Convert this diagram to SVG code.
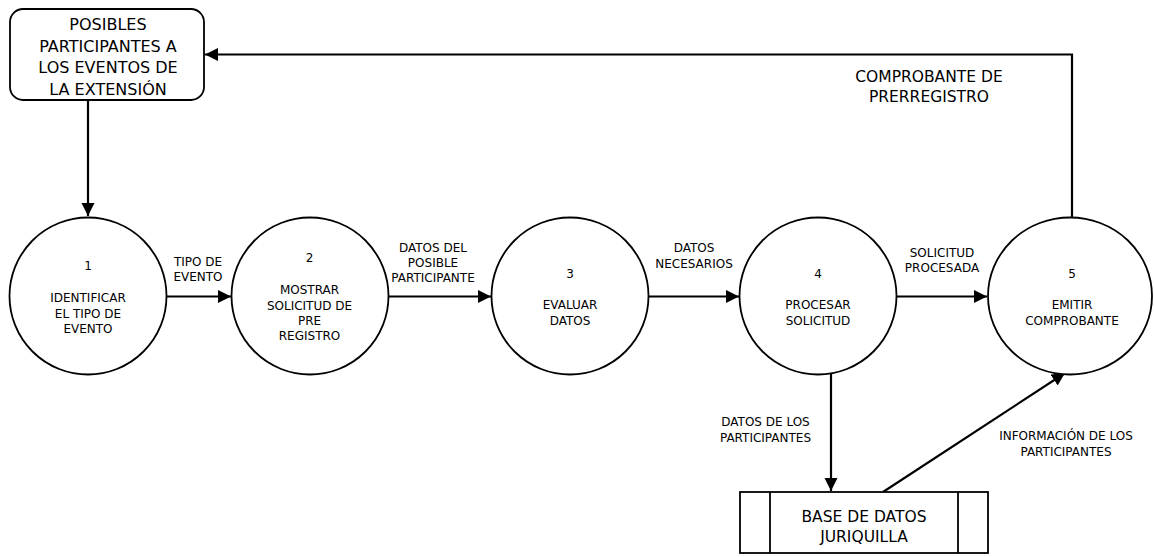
<svg xmlns="http://www.w3.org/2000/svg" width="1154" height="557" viewBox="0 0 1154 557">
<style>
text{font-family:"DejaVu Sans","Liberation Sans",sans-serif;fill:#000;text-anchor:middle}
.big{font-size:15.5px}
.sm{font-size:12px}
.shape{fill:#fff;stroke:#000;stroke-width:1.8}
.flow{fill:none;stroke:#000;stroke-width:2.2}
</style>
<defs>
<marker id="ah" markerUnits="userSpaceOnUse" markerWidth="14" markerHeight="14" refX="13" refY="6.5" orient="auto">
<path d="M0,0 L13,6.5 L0,13 z" fill="#000"/>
</marker>
</defs>
<g id="connectors">
<path class="flow" d="M88,100 V216" marker-end="url(#ah)"/>
<path class="flow" d="M167,296.5 H231" marker-end="url(#ah)"/>
<path class="flow" d="M388,296.5 H491" marker-end="url(#ah)"/>
<path class="flow" d="M648,296.5 H739" marker-end="url(#ah)"/>
<path class="flow" d="M897,296.5 H987" marker-end="url(#ah)"/>
<path class="flow" d="M1072,218 V54.5 H205" marker-end="url(#ah)"/>
<path class="flow" d="M831,373 V491" marker-end="url(#ah)"/>
<path class="flow" d="M883,492 L1065,373" marker-end="url(#ah)"/>
<text class="sm" x="198" y="266">TIPO DE</text>
<text class="sm" x="198" y="281">EVENTO</text>
<text class="sm" x="433" y="251.5">DATOS DEL</text>
<text class="sm" x="433" y="266.5">POSIBLE</text>
<text class="sm" x="433" y="282">PARTICIPANTE</text>
<text class="sm" x="694" y="251.5">DATOS</text>
<text class="sm" x="694" y="267.5">NECESARIOS</text>
<text class="sm" x="942" y="256.5">SOLICITUD</text>
<text class="sm" x="942" y="272">PROCESADA</text>
<text class="big" x="929" y="81.5">COMPROBANTE DE</text>
<text class="big" x="929" y="101.5">PRERREGISTRO</text>
<text class="sm" x="765.5" y="426">DATOS DE LOS</text>
<text class="sm" x="765.5" y="441.5">PARTICIPANTES</text>
<text class="sm" x="1066" y="440">INFORMACIÓN DE LOS</text>
<text class="sm" x="1066" y="455.5">PARTICIPANTES</text>
</g>
<g id="entity">
<rect class="shape" x="10" y="9" width="194" height="91" rx="13"/>
<text style="font-size:16px" x="108" y="30">POSIBLES</text>
<text style="font-size:16px" x="108" y="51.5">PARTICIPANTES A</text>
<text style="font-size:16px" x="108" y="73">LOS EVENTOS DE</text>
<text style="font-size:16px" x="108" y="94.5">LA EXTENSIÓN</text>
</g>
<g id="p1">
<circle class="shape" cx="88" cy="296" r="78.5"/>
<text class="sm" x="88" y="270">1</text>
<text class="sm" x="88" y="302">IDENTIFICAR</text>
<text class="sm" x="88" y="317.5">EL TIPO DE</text>
<text class="sm" x="88" y="332.5">EVENTO</text>
</g>
<g id="p2">
<circle class="shape" cx="310" cy="296" r="78.5"/>
<text class="sm" x="309.5" y="262">2</text>
<text class="sm" x="309.5" y="294">MOSTRAR</text>
<text class="sm" x="309.5" y="309.5">SOLICITUD DE</text>
<text class="sm" x="309.5" y="324.5">PRE</text>
<text class="sm" x="309.5" y="340">REGISTRO</text>
</g>
<g id="p3">
<circle class="shape" cx="570" cy="296" r="78.5"/>
<text class="sm" x="570" y="278">3</text>
<text class="sm" x="570" y="309">EVALUAR</text>
<text class="sm" x="570" y="324.5">DATOS</text>
</g>
<g id="p4">
<circle class="shape" cx="818" cy="296" r="78.5"/>
<text class="sm" x="818" y="278">4</text>
<text class="sm" x="818" y="309">PROCESAR</text>
<text class="sm" x="818" y="324.5">SOLICITUD</text>
</g>
<g id="p5">
<ellipse class="shape" cx="1070" cy="296" rx="82" ry="78.5"/>
<text class="sm" x="1072" y="278">5</text>
<text class="sm" x="1072" y="309">EMITIR</text>
<text class="sm" x="1072" y="324.5">COMPROBANTE</text>
</g>
<g id="store">
<rect class="shape" x="740" y="492" width="248" height="61"/>
<line x1="770" y1="492" x2="770" y2="553" stroke="#000" stroke-width="1.8"/>
<line x1="958" y1="492" x2="958" y2="553" stroke="#000" stroke-width="1.8"/>
<text class="big" x="864" y="521.5">BASE DE DATOS</text>
<text class="big" x="864" y="541.5">JURIQUILLA</text>
</g>
</svg>
